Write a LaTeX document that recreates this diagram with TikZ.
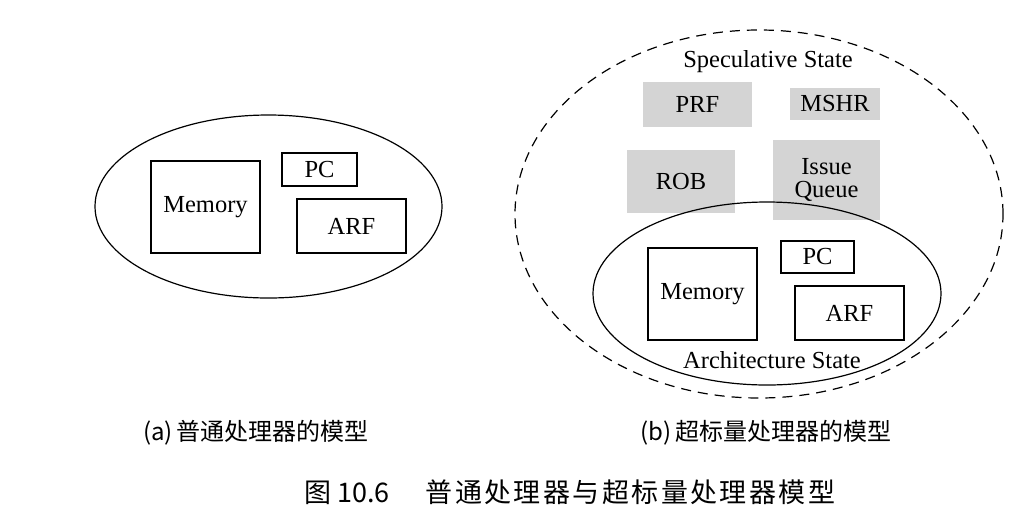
\documentclass[tikz,border=0pt]{standalone}
\usepackage{fontspec}
\setmainfont{Liberation Serif}
\newfontfamily\cjk{Noto Sans CJK SC}
\newfontfamily\cjkwide[LetterSpace=9]{Noto Sans CJK SC}
\usetikzlibrary{shapes.geometric}
\begin{document}
\begin{tikzpicture}[x=1pt,y=-1pt,
  box/.style={draw, line width=1.2pt, rectangle, inner sep=0pt, font=\fontsize{24.5}{27}\selectfont},
  gbox/.style={fill=black!17, rectangle, inner sep=0pt, font=\fontsize{24.5}{27}\selectfont, align=center},
  oval/.style={draw, line width=1.2pt, ellipse, inner sep=0pt},
  lbl/.style={font=\fontsize{24.5}{27}\selectfont, inner sep=0pt},
  captext/.style={font=\cjk\fontsize{24}{28}\selectfont, inner sep=0pt}]
\useasboundingbox (0,0) rectangle (1024,520);
% (a)
\node[oval, minimum width=347pt, minimum height=183pt] (ea) at (268.5,206.5) {};
\node[box, minimum width=109pt, minimum height=92pt] (mema) at (205.5,207) {Memory};
\node[box, minimum width=75pt, minimum height=33pt] (pca) at (319.5,169.5) {PC};
\node[box, minimum width=109pt, minimum height=54pt] (arfa) at (351.5,226) {ARF};
% (b)
\node[oval, dash pattern=on 10pt off 7pt, minimum width=488pt, minimum height=368pt] (spec) at (759,214) {};
\node[lbl] (spect) at (768,62) {Speculative State};
\node[gbox, minimum width=109pt, minimum height=45pt] (prf) at (697.5,104.5) {PRF};
\node[gbox, minimum width=90pt, minimum height=32pt] (mshr) at (835,104) {MSHR};
\node[gbox, minimum width=108pt, minimum height=63pt] (rob) at (681,181.5) {ROB};
\node[gbox, minimum width=107pt, minimum height=80pt] (iq) at (826.5,180) {Issue\\[-4pt]Queue};
\node[oval, minimum width=348pt, minimum height=183pt] (arch) at (767,293.5) {};
\node[box, minimum width=109pt, minimum height=92pt] (memb) at (702.5,294) {Memory};
\node[box, minimum width=73pt, minimum height=32pt] (pcb) at (817.5,257) {PC};
\node[box, minimum width=109pt, minimum height=54pt] (arfb) at (849.5,313) {ARF};
\node[lbl] (archt) at (772,360) {Architecture State};
% captions
\node[captext] (capa) at (256,433) {(a)\,普通处理器的模型};
\node[captext] (capb) at (766,433) {(b)\,超标量处理器的模型};
\node[captext, anchor=west, font=\cjk\fontsize{27}{30}\selectfont] (capm) at (304,492) {图\hspace{6pt}10.6\hspace{36pt}{\cjkwide 普通处理器与超标量处理器模型}};
\end{tikzpicture}
\end{document}
